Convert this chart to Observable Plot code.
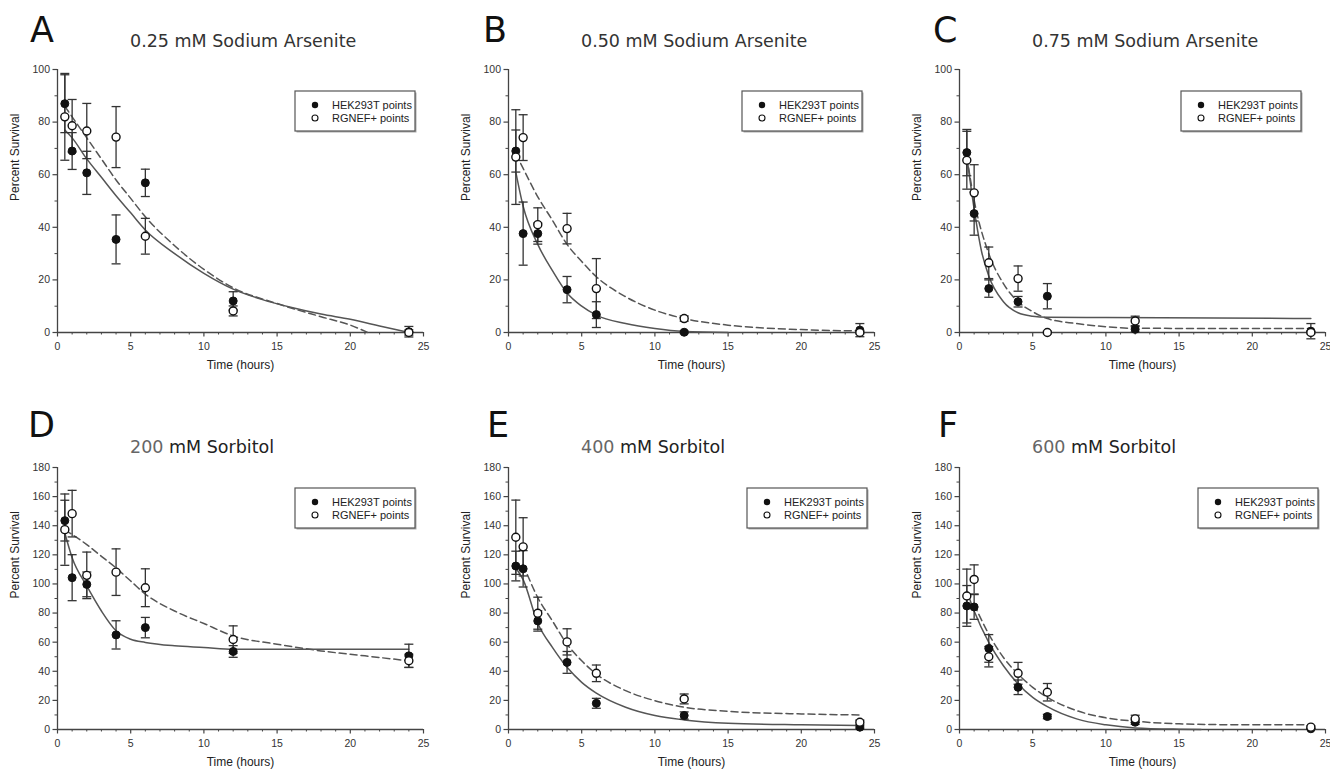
<!DOCTYPE html>
<html><head><meta charset="utf-8">
<script src="https://cdn.jsdelivr.net/npm/d3@7"></script>
<script src="https://cdn.jsdelivr.net/npm/@observablehq/plot@0.6"></script>
<style>
html,body{margin:0;padding:0;background:#fff;}
body{width:1330px;height:771px;overflow:hidden;position:relative;font-family:"Liberation Sans",Arial,sans-serif;}
.panel{position:absolute;}
#overlay{position:absolute;left:0;top:0;pointer-events:none;}
</style></head><body>
<script>
// ---------------- data ----------------
const times = [0.5, 1, 2, 4, 6, 12, 24];
const xMajorTicks = [0, 5, 10, 15, 20, 25];
const xMinorTicks = [1,2,3,4,6,7,8,9,11,12,13,14,16,17,18,19,21,22,23,24];
const yMajorTicksTop = [0, 20, 40, 60, 80, 100];
const yMinorTicksTop = [10, 30, 50, 70, 90];
const yMajorTicksBottom = [0, 20, 40, 60, 80, 100, 120, 140, 160, 180];
const yMinorTicksBottom = [10, 30, 50, 70, 90, 110, 130, 150, 170];
const panelLetters = ["A", "B", "C", "D", "E", "F"];
const titleNumbers = ["0.25", "0.50", "0.75", "200", "400", "600"];
const titleRest = [" mM Sodium Arsenite", " mM Sodium Arsenite", " mM Sodium Arsenite", " mM Sorbitol", " mM Sorbitol", " mM Sorbitol"];
const legendLabels = ["HEK293T points", "RGNEF+ points"];
const xLabel = "Time (hours)";
const yLabel = "Percent Survival";

// Panel A: 0.25 mM Sodium Arsenite
const hekA = [87, 69, 60.7, 35.4, 56.9, 12.0, 0.3];
const hekErrA = [11, 7, 8.2, 9.3, 5.2, 3.5, 2];
const rgA = [82, 78.6, 76.6, 74.3, 36.6, 8.2, 0];
const rgErrA = [16.5, 10, 10.5, 11.6, 6.8, 1.9, 1];
const solidTA = [0.5, 1, 2, 3, 4, 5, 6, 8, 10, 12, 14, 16, 18, 20, 22, 24];
const solidA = [77, 74, 66, 59, 52, 45.5, 39, 30, 22.5, 16.5, 12.5, 9.5, 7, 5, 2.5, 0];
const dashedTA = [0.5, 1, 2, 3, 4, 5, 6, 8, 10, 12, 15, 18, 20, 21.2];
const dashedA = [86, 82, 74, 66, 58, 51, 44, 33, 24, 17, 11, 6, 2.8, 0];

// Panel B: 0.50 mM Sodium Arsenite
const hekB = [69, 37.6, 37.6, 16.3, 6.8, 0.1, 0.9];
const hekErrB = [8, 12, 4, 5, 4.9, 0.5, 2.5];
const rgB = [66.7, 74.1, 41, 39.5, 16.7, 5.3, 0];
const rgErrB = [18, 8.7, 6.4, 5.8, 11.4, 1, 0.5];
const solidTB = [0.5, 1, 2, 3, 4, 5, 6, 8, 10, 12, 15];
const solidB = [61, 48, 33.5, 23.5, 15, 10, 6.6, 3.4, 1.5, 0.4, 0];
const dashedTB = [0.5, 1, 2, 3, 4, 5, 6, 8, 10, 12, 15, 20, 24];
const dashedB = [68, 62.4, 51.6, 42.7, 33.5, 27, 21.2, 13.6, 8.5, 5.3, 2.8, 1.1, 0.6];

// Panel C: 0.75 mM Sodium Arsenite
const hekC = [68.4, 45.2, 16.7, 11.7, 13.8, 1.2, 0.5];
const hekErrC = [8.8, 8.2, 3.3, 2, 4.8, 1, 2.9];
const rgC = [65.5, 53.1, 26.5, 20.5, 0, 4.4, 0];
const rgErrC = [11, 10.7, 6, 4.8, 0.5, 1.8, 0.5];
const solidTC = [0.5, 1, 1.5, 2, 3, 4, 5, 6, 10, 24];
const solidC = [67, 47, 31, 21.5, 11.7, 7.5, 6.2, 5.8, 5.7, 5.3];
const dashedTC = [0.5, 1, 2, 3, 4, 5, 6, 8, 10, 12, 24];
const dashedC = [66.8, 50.3, 30, 18.6, 11.7, 7.9, 5.3, 3.4, 2.2, 1.6, 1.5];

// Panel D: 200 mM Sorbitol
const hekD = [143.5, 104.3, 99.7, 65, 70, 53.6, 50.6];
const hekErrD = [14, 15.8, 8.5, 9.7, 7, 4, 8];
const rgD = [137.3, 148.3, 105.9, 108.1, 97.4, 61.8, 47.2];
const rgErrD = [24.5, 16, 16, 16, 13, 9.4, 4.5];
const solidTD = [0.5, 1, 2, 3, 4, 5, 6, 8, 10, 12, 24];
const solidD = [135, 118, 98.6, 81.4, 67.8, 62, 59.8, 57.5, 56.4, 55.2, 55.2];
const dashedTD = [0.5, 1, 2, 3, 4, 5, 6, 8, 10, 12, 15, 18, 21, 24];
const dashedD = [137, 134, 127, 119, 111, 102, 93, 81.4, 72.8, 64.3, 58.6, 54, 50.6, 47.2];

// Panel E: 400 mM Sorbitol
const hekE = [112.3, 110.4, 74.6, 46.1, 18, 9.6, 1.6];
const hekErrE = [10.2, 12.5, 7, 7.5, 3.4, 2.5, 1];
const rgE = [132.1, 125.5, 79.9, 60.2, 38.6, 21, 5];
const rgErrE = [25.5, 20, 11, 9, 5.7, 3.4, 1.5];
const solidTE = [0.5, 1, 2, 3, 4, 5, 6, 8, 10, 12, 15, 20, 24];
const solidE = [111, 103, 73, 56.4, 42.7, 32.4, 25, 15.3, 9.6, 6.6, 4.3, 3.2, 2.7];
const dashedTE = [1, 2, 3, 4, 5, 6, 8, 10, 12, 15, 20, 24];
const dashedE = [113.4, 90.6, 74.6, 58.6, 47.2, 38.1, 26.7, 19.8, 15.3, 12.5, 10.7, 10];

// Panel F: 600 mM Sorbitol
const hekF = [84.9, 84.2, 55.7, 29, 8.9, 5, 0.5];
const hekErrF = [14, 8.5, 9.5, 5, 1.5, 1.5, 0.5];
const rgF = [91.7, 103.1, 50, 38.6, 25.6, 7.3, 1.6];
const rgErrF = [18.5, 10, 7, 7.5, 6, 2.5, 0.8];
const solidTF = [0.5, 1, 2, 3, 4, 5, 6, 8, 10, 12, 15, 16.5];
const solidF = [95, 81.4, 59.8, 43.8, 31.3, 22.1, 15.7, 7.3, 3.2, 1.1, 0.2, 0];
const dashedTF = [1, 2, 3, 4, 5, 6, 8, 10, 12, 15, 20, 24];
const dashedF = [86, 65.5, 49.5, 38.1, 29, 22.1, 13, 8, 5.7, 3.9, 3.2, 3.2];

// ---------------- layout ----------------
const panels = [
  {hek: hekA, hekErr: hekErrA, rg: rgA, rgErr: rgErrA, sT: solidTA, s: solidA, dT: dashedTA, d: dashedA, ymax: 100, yMaj: yMajorTicksTop, yMin: yMinorTicksTop, left: 57, top: 69, h: 263, legX: 295, legY: 91, letX: 30},
  {hek: hekB, hekErr: hekErrB, rg: rgB, rgErr: rgErrB, sT: solidTB, s: solidB, dT: dashedTB, d: dashedB, ymax: 100, yMaj: yMajorTicksTop, yMin: yMinorTicksTop, left: 508, top: 69, h: 263, legX: 742, legY: 91, letX: 483},
  {hek: hekC, hekErr: hekErrC, rg: rgC, rgErr: rgErrC, sT: solidTC, s: solidC, dT: dashedTC, d: dashedC, ymax: 100, yMaj: yMajorTicksTop, yMin: yMinorTicksTop, left: 959, top: 69, h: 263, legX: 1181, legY: 91, letX: 933},
  {hek: hekD, hekErr: hekErrD, rg: rgD, rgErr: rgErrD, sT: solidTD, s: solidD, dT: dashedTD, d: dashedD, ymax: 180, yMaj: yMajorTicksBottom, yMin: yMinorTicksBottom, left: 57, top: 467, h: 262, legX: 295, legY: 488, letX: 28},
  {hek: hekE, hekErr: hekErrE, rg: rgE, rgErr: rgErrE, sT: solidTE, s: solidE, dT: dashedTE, d: dashedE, ymax: 180, yMaj: yMajorTicksBottom, yMin: yMinorTicksBottom, left: 508, top: 467, h: 262, legX: 747, legY: 488, letX: 487},
  {hek: hekF, hekErr: hekErrF, rg: rgF, rgErr: rgErrF, sT: solidTF, s: solidF, dT: dashedTF, d: dashedF, ymax: 180, yMaj: yMajorTicksBottom, yMin: yMinorTicksBottom, left: 959, top: 467, h: 262, legX: 1198, legY: 488, letX: 938}
];

const PW = 366, ML = 52, MR = 4, MT = 10, MB = 44;
const capSymbol = {
  draw(ctx, size) {
    const w = Math.sqrt(size / Math.PI);
    ctx.moveTo(-w, 0); ctx.lineTo(w, 0);
  }
};
const AX = "#444", INK = "#111";

panels.forEach((p, k) => {
  const hek = times.map((t, i) => ({t, v: p.hek[i], e: p.hekErr[i]}));
  const rg = times.map((t, i) => ({t, v: p.rg[i], e: p.rgErr[i]}));
  const all = hek.concat(rg);
  const caps = all.flatMap(d => [{t: d.t, y: d.v - d.e}, {t: d.t, y: d.v + d.e}]);
  const solid = p.sT.map((t, i) => ({t, v: p.s[i]}));
  const dashed = p.dT.map((t, i) => ({t, v: p.d[i]}));

  const chart = Plot.plot({
    width: ML + PW + MR, height: MT + p.h + MB,
    marginLeft: ML, marginRight: MR, marginTop: MT, marginBottom: MB,
    style: {fontFamily: "'Liberation Sans', Arial, sans-serif", fontSize: "10.5px", color: "#333", background: "transparent", overflow: "visible"},
    x: {domain: [0, 25]},
    y: {domain: [0, p.ymax]},
    marks: [
      Plot.axisX({ticks: xMinorTicks, tickSize: 2.5, tickFormat: () => "", stroke: AX, label: null}),
      Plot.axisX({ticks: xMajorTicks, tickSize: 4.5, tickPadding: 6, stroke: AX, strokeWidth: 1.2, fill: "#333", label: null}),
      Plot.axisY({ticks: p.yMin, tickSize: 2.5, tickFormat: () => "", stroke: AX, label: null}),
      Plot.axisY({ticks: p.yMaj, tickSize: 4.5, tickPadding: 3, stroke: AX, strokeWidth: 1.2, fill: "#333", label: null}),
      Plot.ruleY([0], {stroke: AX, strokeWidth: 1.3}),
      Plot.ruleX([0], {stroke: AX, strokeWidth: 1.3}),
      Plot.text([xLabel], {frameAnchor: "bottom", dy: 36, fontSize: 12, fill: "#222"}),
      Plot.text([yLabel], {frameAnchor: "left", dx: -42, rotate: -90, fontSize: 12, fill: "#222"}),
      Plot.line(solid, {x: "t", y: "v", curve: "monotone-x", stroke: "#555", strokeWidth: 1.5}),
      Plot.line(dashed, {x: "t", y: "v", curve: "monotone-x", stroke: "#555", strokeWidth: 1.5, strokeDasharray: "7,4"}),
      Plot.ruleX(all, {x: "t", y1: d => d.v - d.e, y2: d => d.v + d.e, stroke: "#333", strokeWidth: 1.3}),
      Plot.dot(caps, {x: "t", y: "y", symbol: capSymbol, r: 4.5, stroke: "#333", strokeWidth: 1.3, fill: "none"}),
      Plot.dot(hek, {x: "t", y: "v", r: 4, fill: INK, stroke: INK, strokeWidth: 1}),
      Plot.dot(rg, {x: "t", y: "v", r: 4, fill: "white", stroke: INK, strokeWidth: 1.4})
    ]
  });
  const wrap = document.createElement("div");
  wrap.className = "panel";
  wrap.style.left = (p.left - ML) + "px";
  wrap.style.top = (p.top - MT) + "px";
  wrap.appendChild(chart);
  document.body.appendChild(wrap);
});

// overlay: panel letters, titles, legends
const NS = "http://www.w3.org/2000/svg";
const ov = document.createElementNS(NS, "svg");
ov.setAttribute("id", "overlay");
ov.setAttribute("width", 1330); ov.setAttribute("height", 771);
document.body.appendChild(ov);
function el(tag, attrs, text) {
  const e = document.createElementNS(NS, tag);
  for (const k in attrs) e.setAttribute(k, attrs[k]);
  if (text != null) e.textContent = text;
  ov.appendChild(e);
  return e;
}
panels.forEach((p, k) => {
  const topRow = k < 3;
  el("text", {x: p.letX, y: topRow ? 42 : 437, "font-family": "DejaVu Sans", "font-size": 35, fill: "#111"}, panelLetters[k]);
  const t = el("text", {x: p.left + 73, y: topRow ? 47 : 453, "font-family": "DejaVu Sans", "font-size": 17.5, fill: "#333"});
  const t1 = document.createElementNS(NS, "tspan");
  t1.textContent = titleNumbers[k];
  t1.setAttribute("fill", topRow ? "#333" : "#666");
  const t2 = document.createElementNS(NS, "tspan");
  t2.textContent = titleRest[k];
  t2.setAttribute("fill", topRow ? "#333" : "#222");
  t.appendChild(t1); t.appendChild(t2);
  // legend
  el("rect", {x: p.legX + 1.5, y: p.legY + 1.5, width: 120, height: 40, fill: "#aaa"});
  el("rect", {x: p.legX, y: p.legY, width: 120, height: 40, fill: "#fff", stroke: "#555", "stroke-width": 1.2});
  el("circle", {cx: p.legX + 20, cy: p.legY + 14, r: 3.2, fill: "#111"});
  el("circle", {cx: p.legX + 20, cy: p.legY + 27, r: 3, fill: "#fff", stroke: "#111", "stroke-width": 1.1});
  el("text", {x: p.legX + 37, y: p.legY + 18, "font-family": "Liberation Sans", "font-size": 11, fill: "#222"}, legendLabels[0]);
  el("text", {x: p.legX + 37, y: p.legY + 31, "font-family": "Liberation Sans", "font-size": 11, fill: "#222"}, legendLabels[1]);
});
</script>
</body></html>
